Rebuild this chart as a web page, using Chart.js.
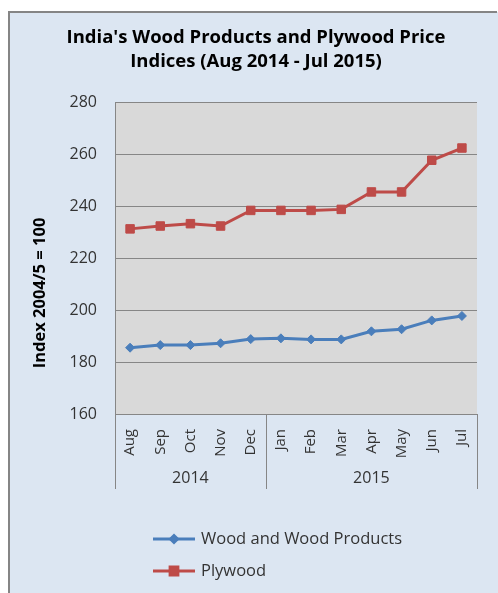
<!DOCTYPE html>
<html><head><meta charset="utf-8">
<script src="https://cdn.jsdelivr.net/npm/chart.js@4"></script>
<style>html,body{margin:0;padding:0;background:#fff;overflow:hidden}</style>
</head><body><canvas id="c" width="498" height="593"></canvas>
<script>
const months = ['Aug','Sep','Oct','Nov','Dec','Jan','Feb','Mar','Apr','May','Jun','Jul'];
const years = ['2014','2015'];
const monthsPerYear = [5, 7];
const woodValues = [185.5, 186.5, 186.5, 187.2, 188.8, 189.1, 188.7, 188.7, 191.8, 192.6, 196.0, 197.7];
const plywoodValues = [231.2, 232.3, 233.2, 232.3, 238.3, 238.3, 238.3, 238.7, 245.4, 245.4, 257.6, 262.3];
const yMin = 160, yMax = 280, yStep = 20;
const titleLines = ["India's Wood Products and Plywood Price", "Indices (Aug 2014 - Jul 2015)"];
const yTitle = 'Index 2004/5 = 100';
const seriesNames = ['Wood and Wood Products', 'Plywood'];

const BLUE = '#4A7EBB', RED = '#BE4B48', GRID = '#868686', TXT = '#333333';
const FONT = "'Open Sans', sans-serif";

const decor = {
  id: 'decor',
  beforeDraw(chart) {
    const ctx = chart.ctx, a = chart.chartArea;
    ctx.save();
    ctx.fillStyle = '#ffffff'; ctx.fillRect(0, 0, 498, 593);
    ctx.fillStyle = '#DCE6F2'; ctx.fillRect(9, 12, 489, 581);
    ctx.fillStyle = '#858585'; ctx.fillRect(8, 11, 2, 582); ctx.fillRect(8, 11, 489, 2);
    ctx.fillStyle = '#D9D9D9'; ctx.fillRect(a.left, a.top, a.right - a.left, a.bottom - a.top);
    ctx.restore();
  },
  afterDraw(chart) {
    const ctx = chart.ctx, a = chart.chartArea, x = chart.scales.x;
    ctx.save();
    // title
    ctx.fillStyle = '#000'; ctx.textAlign = 'center'; ctx.textBaseline = 'middle';
    ctx.font = "bold 18.5px " + FONT;
    titleLines.forEach((t, i) => ctx.fillText(t, 256, 38 + i * 24));
    // y title
    ctx.save(); ctx.translate(40, 293); ctx.rotate(-Math.PI / 2);
    ctx.font = "bold 16.5px " + FONT; ctx.fillText(yTitle, 0, 0); ctx.restore();
    // year groups
    const half = (x.getPixelForValue(1) - x.getPixelForValue(0)) / 2;
    ctx.strokeStyle = GRID; ctx.lineWidth = 1;
    let idx = 0;
    const bounds = [x.getPixelForValue(0) - half];
    monthsPerYear.forEach(n => { idx += n; bounds.push(x.getPixelForValue(idx - 1) + half); });
    bounds.forEach(b => { const px = Math.round(b) + 0.5; ctx.beginPath(); ctx.moveTo(px, a.bottom); ctx.lineTo(px, a.bottom + 75); ctx.stroke(); });
    ctx.fillStyle = TXT; ctx.font = "16px " + FONT;
    years.forEach((y, i) => ctx.fillText(y, (bounds[i] + bounds[i + 1]) / 2, 478));
    // legend
    const items = [[seriesNames[0], BLUE, 'rectRot', 3.5], [seriesNames[1], RED, 'rect', 5.5]];
    items.forEach((it, i) => {
      const ly = 539 + i * 32;
      ctx.strokeStyle = it[1]; ctx.lineWidth = 3;
      ctx.beginPath(); ctx.moveTo(153, ly); ctx.lineTo(195, ly); ctx.stroke();
      ctx.fillStyle = it[1];
      Chart.helpers.drawPoint(ctx, {pointStyle: it[2], radius: it[3], rotation: 0, borderWidth: 1}, 174, ly);
      ctx.fill();
      ctx.fillStyle = TXT; ctx.textAlign = 'left'; ctx.font = "16.5px " + FONT;
      ctx.fillText(it[0], 201, ly);
    });
    ctx.restore();
  }
};

new Chart(document.getElementById('c'), {
  type: 'line',
  data: {
    labels: months,
    datasets: [
      {label: seriesNames[0], data: woodValues, borderColor: BLUE, backgroundColor: BLUE, borderWidth: 3,
       pointStyle: 'rectRot', pointRadius: 4.5, pointBorderWidth: 1, tension: 0},
      {label: seriesNames[1], data: plywoodValues, borderColor: RED, backgroundColor: RED, borderWidth: 3,
       pointStyle: 'rect', pointRadius: 6, pointBorderWidth: 1, tension: 0}
    ]
  },
  options: {
    responsive: false, animation: false, devicePixelRatio: 1,
    layout: {padding: {top: 102, left: 10, right: 21, bottom: 104}},
    plugins: {legend: {display: false}, title: {display: false}, tooltip: {enabled: false}},
    scales: {
      x: {
        offset: true,
        grid: {display: false},
        border: {display: true, color: GRID, width: 1},
        ticks: {autoSkip: false, minRotation: 90, maxRotation: 90, padding: 7, color: TXT, font: {family: FONT, size: 15}},
        afterFit(s) { s.height = 75; }
      },
      y: {
        min: yMin, max: yMax,
        grid: {color: GRID, lineWidth: 1, drawTicks: false},
        border: {display: true, color: GRID, width: 1},
        ticks: {stepSize: yStep, padding: 18, color: TXT, font: {family: FONT, size: 16}},
        afterFit(s) { s.width = 105; }
      }
    }
  },
  plugins: [decor]
});
</script></body></html>
